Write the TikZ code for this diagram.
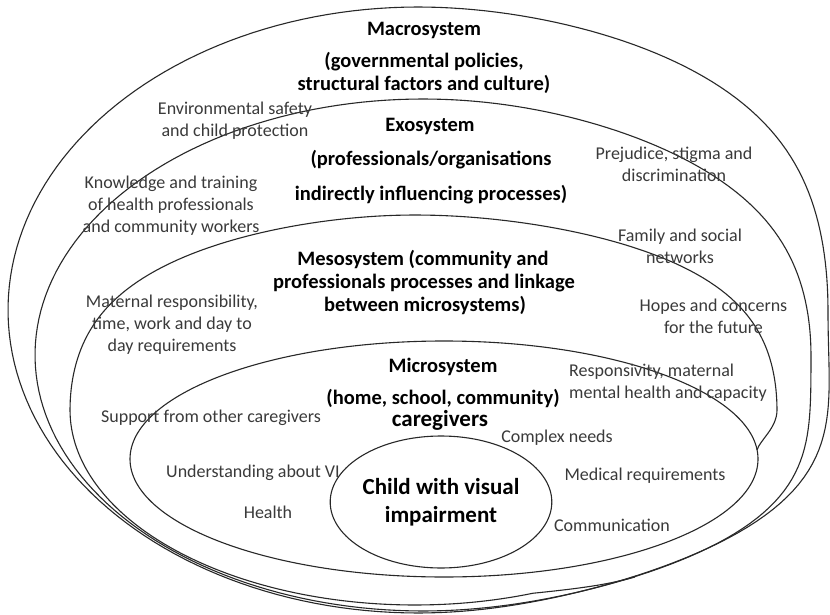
\documentclass[tikz,border=0pt]{standalone}
\usepackage{fontspec}
\setmainfont{Carlito}
\usetikzlibrary{shapes.geometric}
\definecolor{linec}{RGB}{40,40,40}
\definecolor{txtc}{RGB}{58,58,58}
\begin{document}
\begin{tikzpicture}[x=1pt,y=-1pt,
  ring/.style={draw=linec, line width=1.1pt},
  head/.style={font=\fontsize{20.5}{24}\selectfont\bfseries, text=black, inner sep=0pt},
  big/.style={font=\fontsize{23}{28}\selectfont\bfseries, text=black, inner sep=0pt, align=center},
  lab/.style={font=\fontsize{18}{22}\selectfont, text=txtc, inner sep=0pt, align=center}]
\useasboundingbox (0,0) rectangle (830,615);
\fill[white] (0,0) rectangle (830,615);

% Macrosystem boundary
\draw[ring] plot[domain=0:90, samples=60] ({418+410*cos(\x)+100*cos(\x)*cos(\x)*sin(\x)*sin(\x)}, {310-303*sin(\x)})
  -- plot[domain=90:270, samples=100] ({418+410*cos(\x)}, {310-303*sin(\x)})
  -- plot[domain=270:360, samples=60] ({418+410*cos(\x)+250*cos(\x)*cos(\x)*cos(\x)*sin(\x)*sin(\x)}, {310-303*sin(\x)}) -- cycle;
% Exosystem boundary
\draw[ring] plot[domain=0:90, samples=60] ({423+388*cos(\x)+75*cos(\x)*cos(\x)*cos(\x)*sin(\x)*sin(\x)}, {355-256*sin(\x)})
  -- plot[domain=90:270, samples=100] ({423+388*cos(\x)}, {355-256*sin(\x)})
  -- plot[domain=270:360, samples=60] ({423+388*cos(\x)+188*cos(\x)*cos(\x)*cos(\x)*sin(\x)*sin(\x)}, {355-256*sin(\x)}) -- cycle;
% Mesosystem boundary (open: merges into the microsystem and exosystem)
\coordinate (mesoJ) at (757,450);
\coordinate (mesoE) at (635,577);
\draw[ring] (mesoJ) .. controls (760,440) and (777,428) .. (777,410)
  -- plot[domain=0:90, samples=60] ({415+362*cos(\x)+88*cos(\x)*cos(\x)*sin(\x)*sin(\x)}, {410-195*sin(\x)})
  -- plot[domain=90:180, samples=60] ({415+345*cos(\x)-72*cos(\x)*cos(\x)*sin(\x)*sin(\x)}, {410-195*sin(\x)})
  -- plot[domain=180:290, samples=80] ({415+345*cos(\x)}, {410-195*sin(\x)})
  .. controls (585,588) and (610,584) .. (mesoE);
% Microsystem
\draw[ring] (444,459) ellipse [x radius=314pt, y radius=118pt];

% Child
\node[ellipse, draw=linec, line width=1.1pt, minimum width=178pt, minimum height=132pt, inner sep=0pt, big] (child) at (441,502) {Child with visual\\impairment};

% Headings
\node[head] (macroA) at (424,30) {Macrosystem};
\node[head] (macroB) at (424,62) {(governmental policies,};
\node[head] (macroC) at (424,84) {structural factors and culture)};
\node[head] (exoA) at (430,126) {Exosystem};
\node[head] (exoB) at (431,160) {(professionals/organisations};
\node[head] (exoC) at (431,195) {indirectly influencing processes)};
\node[head] (mesoA) at (423,260) {Mesosystem (community and};
\node[head] (mesoB) at (424,283) {professionals processes and linkage};
\node[head] (mesoC) at (425,306) {between microsystems)};
\node[head] (microA) at (443,367) {Microsystem};
\node[head] (microB) at (443,399) {(home, school, community)};
\node[big] (microC) at (440,420) {caregivers};

% Factor labels
\node[lab] (env) at (235,120.5) {Environmental safety\\and child protection};
\node[lab] (know) at (171,205.5) {Knowledge and training\\of health professionals\\and community workers};
\node[lab] (prej) at (674,164.5) {Prejudice, stigma and\\discrimination};
\node[lab] (fam) at (680,246.5) {Family and social\\networks};
\node[lab] (mat) at (172,325) {Maternal responsibility,\\time, work and day to\\day requirements};
\node[lab] (hopes) at (713.5,316.5) {Hopes and concerns\\for the future};
\node[lab, align=left, anchor=west] (resp) at (569,383) {Responsivity, maternal\\mental health and capacity};
\node[lab] (support) at (211,418) {Support from other caregivers};
\node[lab] (complex) at (557,438) {Complex needs};
\node[lab] (underst) at (253,473) {Understanding about VI};
\node[lab] (medical) at (645,476) {Medical requirements};
\node[lab] (health) at (268,512) {Health};
\node[lab] (comm) at (612,525) {Communication};
\end{tikzpicture}
\end{document}
